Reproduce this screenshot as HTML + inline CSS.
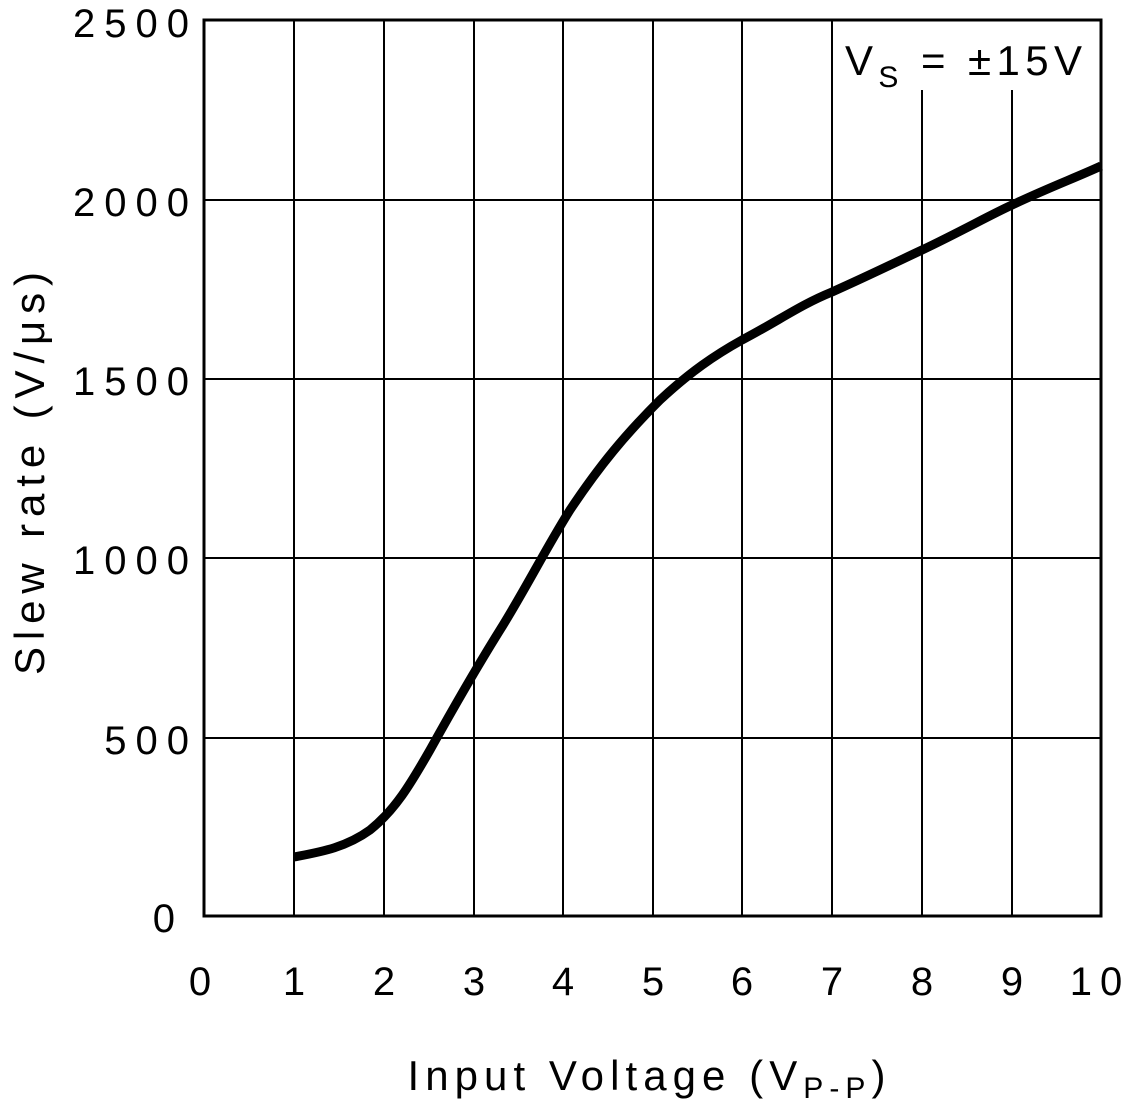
<!DOCTYPE html>
<html><head><style>
html,body{margin:0;padding:0;background:#fff;}
</style></head><body>
<svg width="1124" height="1112" viewBox="0 0 1124 1112" xmlns="http://www.w3.org/2000/svg" font-family="Liberation Sans, sans-serif" fill="#000">
<g stroke="#000" stroke-width="2">
<line x1="294" y1="20" x2="294" y2="916"/>
<line x1="384" y1="20" x2="384" y2="916"/>
<line x1="474" y1="20" x2="474" y2="916"/>
<line x1="563" y1="20" x2="563" y2="916"/>
<line x1="653" y1="20" x2="653" y2="916"/>
<line x1="742" y1="20" x2="742" y2="916"/>
<line x1="832" y1="20" x2="832" y2="916"/>
<line x1="922" y1="90" x2="922" y2="916"/>
<line x1="1012" y1="90" x2="1012" y2="916"/>
<line x1="204" y1="200" x2="1101" y2="200"/>
<line x1="204" y1="379" x2="1101" y2="379"/>
<line x1="204" y1="558" x2="1101" y2="558"/>
<line x1="204" y1="738" x2="1101" y2="738"/>
</g>
<rect x="204" y="20" width="897" height="896" fill="none" stroke="#000" stroke-width="3"/>
<path d="M294,857 C320,852 345,848 370,830 C395,810 410,785 430,750 C455,705 475,670 500,630 C525,590 545,550 570,510 C600,465 625,435 660,400 C690,372 715,355 742,340 C780,320 800,305 832,292 C870,275 890,265 922,250 C960,232 990,215 1012,205 C1050,187 1075,178 1101,166" fill="none" stroke="#000" stroke-width="9"/>
<g font-size="40" text-anchor="end" letter-spacing="9">
<text x="198" y="37">2500</text>
<text x="198" y="216">2000</text>
<text x="198" y="395">1500</text>
<text x="198" y="574">1000</text>
<text x="198" y="754">500</text>
<text x="184" y="932">0</text>
</g>
<g font-size="40" text-anchor="middle">
<text x="200" y="995">0</text>
<text x="294" y="995">1</text>
<text x="384" y="995">2</text>
<text x="474" y="995">3</text>
<text x="563" y="995">4</text>
<text x="653" y="995">5</text>
<text x="742" y="995">6</text>
<text x="832" y="995">7</text>
<text x="922" y="995">8</text>
<text x="1012" y="995">9</text>
<text x="1100" y="995" letter-spacing="8">10</text>
</g>
<text x="650" y="1090" font-size="42" text-anchor="middle" letter-spacing="7" textLength="485" lengthAdjust="spacing">Input Voltage (V<tspan font-size="30" dy="8">P-P</tspan><tspan dy="-8">)</tspan></text>
<text transform="translate(44,470) rotate(-90)" font-size="42" text-anchor="middle" letter-spacing="7" textLength="410" lengthAdjust="spacing">Slew rate (V/μs)</text>
<text x="845" y="75" font-size="42" letter-spacing="8" textLength="245" lengthAdjust="spacing">V<tspan font-size="30" dy="12">S</tspan><tspan dy="-12"> = ±15V</tspan></text>
</svg>
</body></html>
